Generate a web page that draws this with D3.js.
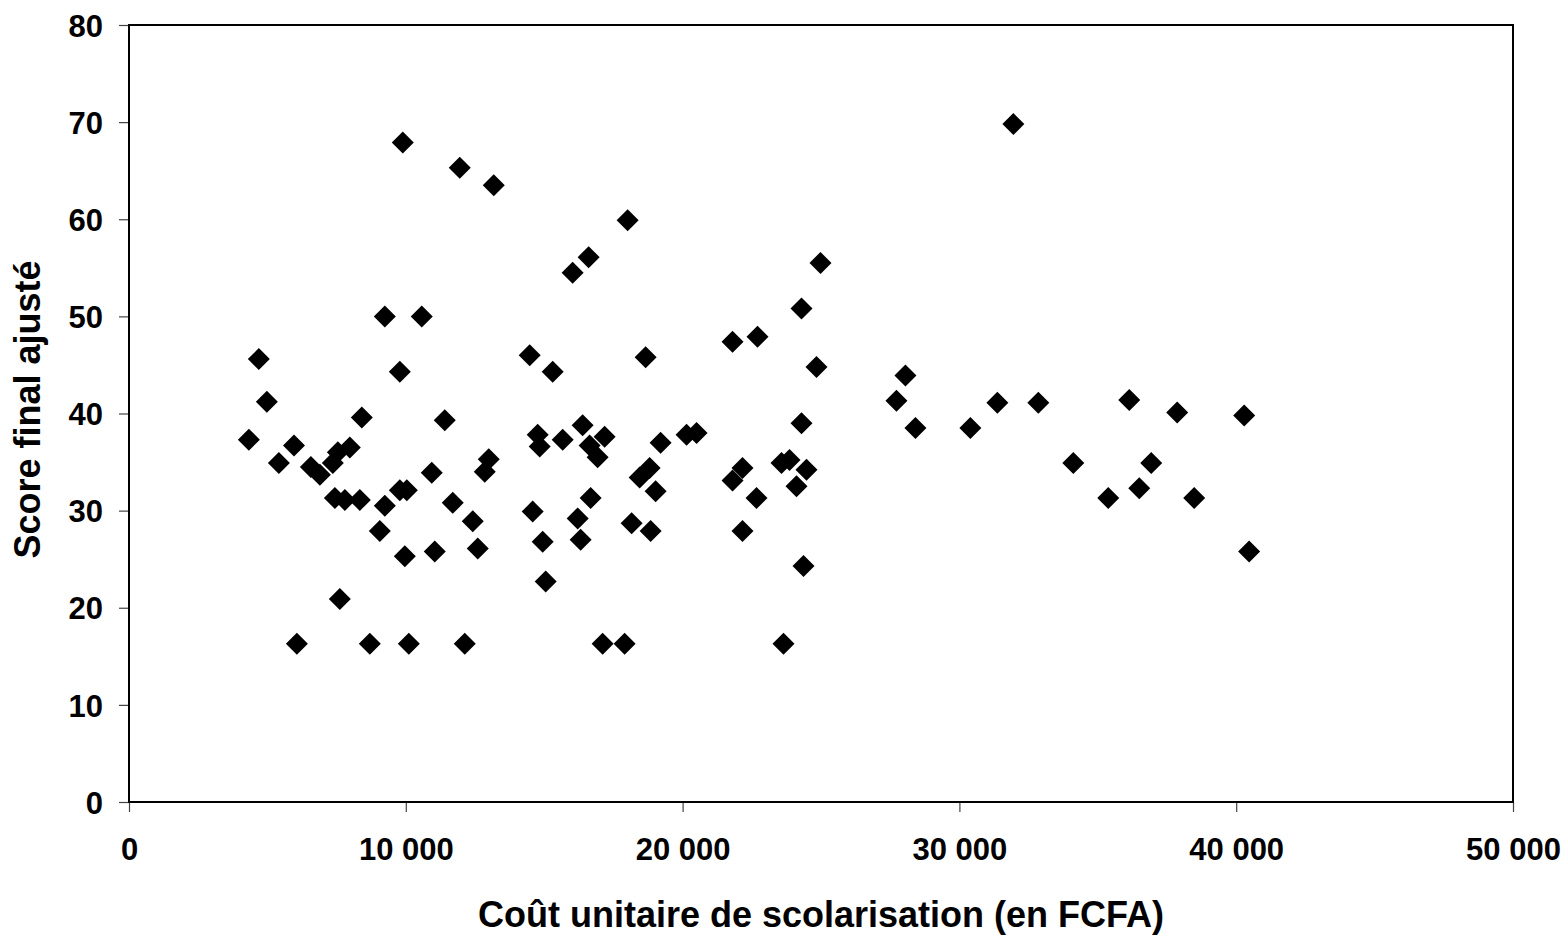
<!DOCTYPE html>
<html>
<head>
<meta charset="utf-8">
<script src="https://cdn.jsdelivr.net/npm/d3@7"></script>
<style>
  html, body { margin: 0; padding: 0; background: #fff; }
  svg text { font-family: Arial, "Liberation Sans", sans-serif; font-weight: bold; fill: #000; }
</style>
</head>
<body>
<svg id="chart" width="1567" height="935"></svg>
<script>
// Data: unit cost of schooling (FCFA) and adjusted final score
const costs = [
  4330, 4690, 4980, 5415, 5960, 6065, 6570, 6895, 7364, 7545,
  7978, 7437, 7798, 8339, 7617, 8411, 8700, 9061, 9242, 9242,
  9783, 9783, 10036, 9964, 10108, 9891, 10577, 10938, 11047, 11408,
  11696, 11949, 12130, 12418, 12599, 12852, 12996, 13177, 14476, 14584,
  14765, 14837, 14945, 15054, 15306, 15667, 16028, 16209, 16317, 16389,
  16606, 16642, 16678, 16931, 17184, 17111, 17906, 18014, 18158, 18447,
  18664, 18808, 18844, 19025, 19205, 20144, 20505, 21804, 21804, 22165,
  22165, 22671, 22707, 23573, 23862, 23646, 24115, 24295, 24295, 24476,
  24368, 24837, 24981, 27725, 28050, 28411, 30396, 31371, 31949, 32851,
  34115, 35378, 36136, 36497, 36930, 37869, 38483, 40288, 40468
];
const scores = [
  37.3, 45.6, 41.2, 34.9, 36.7, 16.3, 34.5, 33.7, 34.9, 36.0,
  36.5, 31.3, 31.1, 31.1, 20.9, 39.6, 16.3, 27.9, 30.5, 50.0,
  44.3, 32.1, 32.1, 25.3, 16.3, 67.9, 50.0, 33.9, 25.8, 39.3,
  30.8, 65.3, 16.3, 28.9, 26.1, 34.0, 35.3, 63.5, 46.0, 29.9,
  37.8, 36.6, 26.8, 22.7, 44.3, 37.3, 54.5, 29.2, 27.0, 38.8,
  56.1, 36.7, 31.3, 35.5, 37.6, 16.3, 16.3, 59.9, 28.7, 33.4,
  45.8, 34.4, 27.9, 32.0, 37.0, 37.8, 38.0, 47.4, 33.1, 34.4,
  27.9, 31.3, 47.9, 34.9, 35.2, 16.3, 32.5, 50.8, 39.0, 34.2,
  24.3, 44.8, 55.5, 41.3, 43.9, 38.5, 38.5, 41.1, 69.8, 41.1,
  34.9, 31.3, 41.4, 32.3, 34.9, 40.1, 31.3, 39.8, 25.8
];
const xTicks = [0, 10000, 20000, 30000, 40000, 50000];
const yTicks = [0, 10, 20, 30, 40, 50, 60, 70, 80];
const xTitle = "Coût unitaire de scolarisation (en FCFA)";
const yTitle = "Score final ajusté";

(function () {
  const svg = d3.select("#chart");
  const mL = 129, mR = 1513, mT = 25, mB = 802;

  const x = d3.scaleLinear().domain([0, 50000]).range([mL, mR]);
  const y = d3.scaleLinear().domain([0, 80]).range([mB, mT]);

  const fmt = v => v === 0 ? "0" : d3.format(",")(v).replace(/,/g, " ");

  // X axis
  const xAxis = svg.append("g")
    .attr("transform", `translate(0,${mB})`)
    .call(d3.axisBottom(x).tickValues(xTicks).tickSize(10).tickPadding(0).tickFormat(fmt));
  xAxis.select(".domain").remove();
  xAxis.selectAll(".tick line").attr("stroke", "#444").attr("stroke-width", 1.2);
  xAxis.selectAll(".tick text").attr("font-size", 31).attr("y", 58).attr("dy", null)
    .style("font-family", "Arial, 'Liberation Sans', sans-serif").style("font-weight", "bold");

  // Y axis
  const yAxis = svg.append("g")
    .attr("transform", `translate(${mL},0)`)
    .call(d3.axisLeft(y).tickValues(yTicks).tickSize(10).tickPadding(16).tickFormat(d3.format("d")));
  yAxis.select(".domain").remove();
  yAxis.selectAll(".tick line").attr("stroke", "#444").attr("stroke-width", 1.2);
  yAxis.selectAll(".tick text").attr("font-size", 31).attr("dy", "0.36em")
    .style("font-family", "Arial, 'Liberation Sans', sans-serif").style("font-weight", "bold");

  // Plot frame
  svg.append("rect")
    .attr("x", mL).attr("y", mT)
    .attr("width", mR - mL).attr("height", mB - mT)
    .attr("fill", "none").attr("stroke", "#000").attr("stroke-width", 2);

  // Points (diamonds)
  const r = 11;
  const diamond = `M0,${-r}L${r},0L0,${r}L${-r},0Z`;
  svg.append("g").selectAll("path")
    .data(costs.map((c, i) => ({ c, s: scores[i] })))
    .join("path")
    .attr("transform", d => `translate(${x(d.c)},${y(d.s)})`)
    .attr("d", diamond)
    .attr("fill", "#000");

  // Axis titles
  svg.append("text")
    .attr("x", (mL + mR) / 2).attr("y", 927)
    .attr("text-anchor", "middle").attr("font-size", 36)
    .text(xTitle);

  svg.append("text")
    .attr("transform", `translate(40,${(mT + mB) / 2 - 4}) rotate(-90)`)
    .attr("text-anchor", "middle").attr("font-size", 36)
    .text(yTitle);
})();
</script>
</body>
</html>
